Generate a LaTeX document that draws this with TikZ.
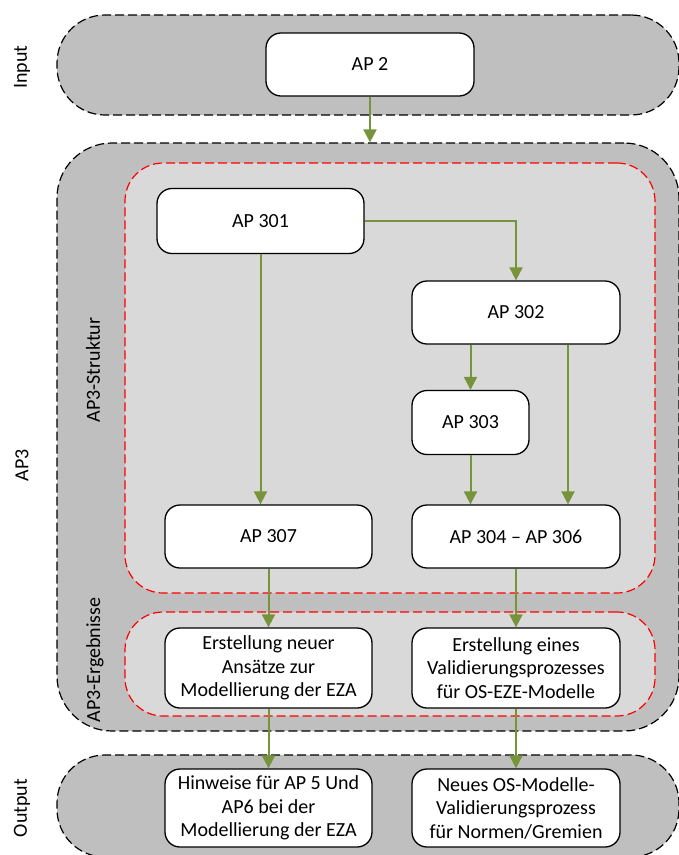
\documentclass[tikz,border=0pt]{standalone}
\usepackage{fontspec}
\setmainfont{Carlito}
\usetikzlibrary{arrows.meta}
\definecolor{lanegray}{HTML}{BFBFBF}
\definecolor{innergray}{HTML}{D9D9D9}
\definecolor{arrgreen}{HTML}{77933C}
\begin{document}
\begin{tikzpicture}[x=1pt,y=-1pt,
  every node/.style={font=\fontsize{20}{23.5}\selectfont},
  lane/.style={draw=black, fill=lanegray, line width=1.2pt, dash pattern=on 9pt off 4pt, rounded corners=#1, inner sep=0pt},
  group/.style={draw=red, fill=innergray, line width=1.2pt, dash pattern=on 9pt off 4pt, rounded corners=38pt, inner sep=0pt},
  box/.style={draw=black, fill=white, line width=1.3pt, rounded corners=15pt, align=center, inner sep=0pt},
  flow/.style={draw=arrgreen, line width=2pt, -{Triangle[width=13pt,length=13pt]}},
  lbl/.style={rotate=90, inner sep=0pt}
]
\useasboundingbox (0,0) rectangle (679,855);
% lanes
\node[lane=48pt, minimum width=622pt, minimum height=100pt] (inlane) at (368,65) {};
\node[lane=55pt, minimum width=622pt, minimum height=588pt] (aplane) at (368,437) {};
\node[lane=48pt, minimum width=622pt, minimum height=102pt] (outlane) at (368,806) {};
% groups
\node[group, minimum width=530pt, minimum height=430pt] (struk) at (390,378) {};
\node[group, minimum width=530pt, minimum height=104pt] (ergeb) at (390,664) {};
% lane labels
\node[lbl] (linput) at (22,67) {Input};
\node[lbl] (lap3) at (22,465) {AP3};
\node[lbl] (loutput) at (22,808) {Output};
\node[lbl] (lstruk) at (93,370) {AP3-Struktur};
\node[lbl] (lergeb) at (95,660) {AP3-Ergebnisse};
% boxes
\node[box, minimum width=208pt, minimum height=63pt] (ap2) at (370,64.5) {AP 2};
\node[box, minimum width=207pt, minimum height=65pt] (ap301) at (260.5,221) {AP 301};
\node[box, minimum width=208pt, minimum height=63pt] (ap302) at (516,312.5) {AP 302};
\node[box, minimum width=117pt, minimum height=64pt] (ap303) at (470.5,422.5) {AP 303};
\node[box, minimum width=207pt, minimum height=63pt] (ap307) at (268.5,536.5) {AP 307};
\node[box, minimum width=208pt, minimum height=63pt] (ap304) at (516,536.5) {AP 304 -- AP 306};
\node[box, minimum width=207pt, minimum height=80pt] (e1) at (268.5,668) {Erstellung neuer\\Ansätze zur\\Modellierung der EZA};
\node[box, minimum width=208pt, minimum height=80pt] (e2) at (516,668) {Erstellung eines\\Validierungsprozesses\\für OS-EZE-Modelle};
\node[box, minimum width=207pt, minimum height=78pt] (h1) at (268.5,808) {Hinweise für AP 5 Und\\AP6 bei der\\Modellierung der EZA};
\node[box, minimum width=208pt, minimum height=78pt] (n1) at (516,808) {Neues OS-Modelle-\\Validierungsprozess\\für Normen/Gremien};
% connectors
\draw[flow] (ap2.south) -- (ap2.south |- aplane.north);
\draw[flow] (ap301.east) -| (ap302.north);
\draw[flow] (ap301.south) -- (ap301.south |- ap307.north);
\draw[flow] (ap303.north |- ap302.south) -- (ap303.north);
\draw[flow] ([xshift=52pt]ap302.south) -- ([xshift=52pt]ap302.south |- ap304.north);
\draw[flow] (ap303.south) -- (ap303.south |- ap304.north);
\draw[flow] (ap307.south) -- (e1.north);
\draw[flow] (ap304.south) -- (e2.north);
\draw[flow] (e1.south) -- (h1.north);
\draw[flow] (e2.south) -- (n1.north);
\end{tikzpicture}
\end{document}
